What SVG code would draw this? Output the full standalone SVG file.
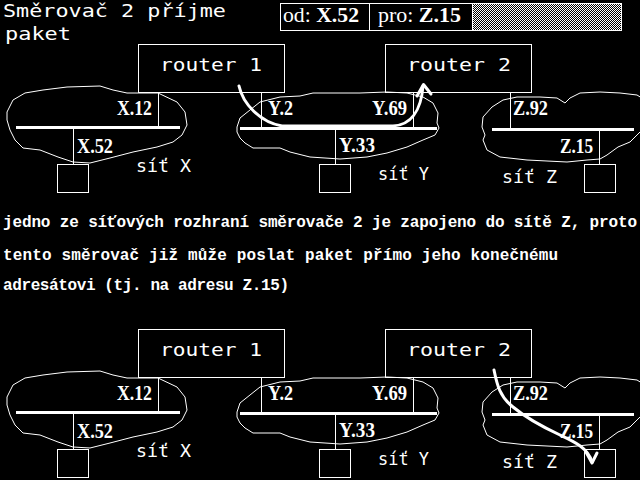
<svg xmlns="http://www.w3.org/2000/svg" width="640" height="480" viewBox="0 0 640 480">
<style>
.bg{fill:#000}
.box{fill:none;stroke:#fff;stroke-width:1}
.cloud{fill:none;stroke:#fff;stroke-width:1;stroke-linejoin:round}
.bus{stroke:#fff;stroke-width:3}
.wire{stroke:#fff;stroke-width:1}
.pix{font-family:"DejaVu Sans Mono","Liberation Mono",monospace;font-size:18.5px;fill:#fff}
.lab{font-family:"Liberation Serif","Times New Roman",serif;font-size:20.5px;font-weight:bold;fill:#fff}
.pkt{font-family:"Liberation Serif","Times New Roman",serif;font-size:21px;fill:#fff}
.para{font-family:"Liberation Mono","Courier New",monospace;font-size:16px;font-weight:bold;fill:#fff}
.arrow{fill:none;stroke:#fff;stroke-width:3;stroke-linecap:round;stroke-linejoin:round}
</style>
<defs>
<pattern id="dither" width="2" height="2" patternUnits="userSpaceOnUse">
<rect width="2" height="2" fill="#000"/>
<rect x="0" y="0" width="1" height="1" fill="#fff"/>
<rect x="1" y="1" width="1" height="1" fill="#fff"/>
</pattern>
<g id="scene">
<polygon class="cloud" points="7,112 13,100 25,93 43,90 67,87 100,86 113,90 127,93 138,93 158,93 177,102 185,112 187,125 182,135 173,142 157,147 133,152 110,158 90,163 73,162 58,157 40,150 23,148 15,140 10,130 7,120"/>
<polygon class="cloud" points="237,127 240,118 250,110 260,102 280,97 300,96 313,93 333,93 360,93 387,92 407,93 423,97 433,103 438,113 437,123 439,128 435,135 423,140 407,147 387,153 367,157 340,159 310,157 290,152 280,148 267,148 253,148 245,143 240,138 237,132"/>
<polygon class="cloud" points="482,127 483,117 492,107 503,100 517,97 540,97 557,98 565,103 570,98 580,93 600,92 620,93 637,95 645,100 645,128 640,132 630,142 618,147 607,155 600,159 587,160 567,162 527,160 500,157 487,150 483,140 485,135"/>
</g>
</defs>
<rect class="bg" x="0" y="0" width="640" height="480"/>

<g id="title">
<text class="pix" x="3" y="17" textLength="223" lengthAdjust="spacingAndGlyphs">Směrovač 2 příjme</text>
<text class="pix" x="5" y="39.5" textLength="66" lengthAdjust="spacingAndGlyphs">paket</text>
</g>

<g id="packet">
<rect x="472" y="3.5" width="149.5" height="27" fill="url(#dither)"/>
<rect class="box" x="280.5" y="3.5" width="341" height="27"/>
<line class="wire" x1="369.5" y1="3.5" x2="369.5" y2="30.5"/>
<line class="wire" x1="472.5" y1="3.5" x2="472.5" y2="30.5"/>
<text class="pkt" x="283" y="22" textLength="76" lengthAdjust="spacingAndGlyphs">od: <tspan font-weight="bold">X.52</tspan></text>
<text class="pkt" x="378" y="22" textLength="83" lengthAdjust="spacingAndGlyphs">pro: <tspan font-weight="bold">Z.15</tspan></text>
</g>

<!-- upper half -->
<g id="upper">
<g id="net-x">
<use href="#scene"/>
</g>
<g id="connectors-upper">
<line class="bus" x1="16" y1="127.5" x2="180" y2="127.5"/>
<line class="bus" x1="240" y1="128.5" x2="437" y2="128.5"/>
<line class="bus" x1="492" y1="129.5" x2="634" y2="129.5"/>
<line class="wire" x1="158.5" y1="92.5" x2="158.5" y2="127"/>
<line class="wire" x1="73.5" y1="127" x2="73.5" y2="164.5"/>
<line class="wire" x1="261.5" y1="92.5" x2="261.5" y2="128"/>
<line class="wire" x1="413.5" y1="92.5" x2="413.5" y2="128"/>
<line class="wire" x1="335.5" y1="128" x2="335.5" y2="164.5"/>
<line class="wire" x1="510.5" y1="92.5" x2="510.5" y2="129"/>
<line class="wire" x1="599.5" y1="129" x2="599.5" y2="164.5"/>
</g>
<g id="router1"><rect class="box" x="138.5" y="44.5" width="146" height="48"/><text class="pix" x="160" y="71" textLength="102" lengthAdjust="spacingAndGlyphs">router 1</text></g>
<g id="router2"><rect class="box" x="385.5" y="44.5" width="146" height="48"/><text class="pix" x="407" y="71" textLength="104" lengthAdjust="spacingAndGlyphs">router 2</text></g>
<g id="hostX"><rect class="box" x="57.5" y="164.5" width="31" height="28"/></g>
<g id="hostY"><rect class="box" x="319.5" y="164.5" width="31" height="28"/></g>
<g id="hostZ"><rect class="box" x="584.5" y="164.5" width="31" height="28"/></g>
<g id="labels-upper">
<text class="lab" x="152" y="115" text-anchor="end" textLength="35" lengthAdjust="spacingAndGlyphs">X.12</text>
<text class="lab" x="77" y="153" textLength="36" lengthAdjust="spacingAndGlyphs">X.52</text>
<text class="lab" x="268" y="115" textLength="25" lengthAdjust="spacingAndGlyphs">Y.2</text>
<text class="lab" x="407" y="115" text-anchor="end" textLength="35" lengthAdjust="spacingAndGlyphs">Y.69</text>
<text class="lab" x="339" y="152" textLength="36" lengthAdjust="spacingAndGlyphs">Y.33</text>
<text class="lab" x="513" y="115" textLength="35" lengthAdjust="spacingAndGlyphs">Z.92</text>
<text class="lab" x="593" y="152.5" text-anchor="end" textLength="33" lengthAdjust="spacingAndGlyphs">Z.15</text>
<text class="pix" x="136" y="171.5" textLength="55" lengthAdjust="spacingAndGlyphs">síť X</text>
<text class="pix" x="378" y="180" textLength="51" lengthAdjust="spacingAndGlyphs">síť Y</text>
<text class="pix" x="502" y="183" textLength="55" lengthAdjust="spacingAndGlyphs">síť Z</text>
</g>
<g id="path-upper">
<path class="arrow" d="M239,86 C243,104 260,122 282,126 L393,126 C410,125 421,112 423,86"/>
<polyline class="arrow" points="417,96 423.5,84.5 431,94"/>
</g>
</g>

<g id="paragraph">
<text class="para" x="3" y="226.5" textLength="634" lengthAdjust="spacing">jedno ze síťových rozhraní směrovače 2 je zapojeno do sítě Z, proto</text>
<text class="para" x="3" y="260" textLength="555" lengthAdjust="spacing">tento směrovač již může poslat paket přímo jeho konečnému</text>
<text class="para" x="3" y="290" textLength="286" lengthAdjust="spacing">adresátovi (tj. na adresu Z.15)</text>
</g>

<!-- lower half -->
<g id="lower" transform="translate(0,285)">
<g id="nets-lower"><use href="#scene"/></g>
<g id="connectors-lower">
<line class="bus" x1="16" y1="127.5" x2="180" y2="127.5"/>
<line class="bus" x1="240" y1="128.5" x2="437" y2="128.5"/>
<line class="bus" x1="492" y1="129.5" x2="634" y2="129.5"/>
<line class="wire" x1="158.5" y1="92.5" x2="158.5" y2="127"/>
<line class="wire" x1="73.5" y1="127" x2="73.5" y2="164.5"/>
<line class="wire" x1="261.5" y1="92.5" x2="261.5" y2="128"/>
<line class="wire" x1="413.5" y1="92.5" x2="413.5" y2="128"/>
<line class="wire" x1="335.5" y1="128" x2="335.5" y2="164.5"/>
<line class="wire" x1="510.5" y1="92.5" x2="510.5" y2="129"/>
<line class="wire" x1="599.5" y1="129" x2="599.5" y2="164.5"/>
</g>
<g id="router1b"><rect class="box" x="138.5" y="44.5" width="146" height="48"/><text class="pix" x="160" y="71" textLength="102" lengthAdjust="spacingAndGlyphs">router 1</text></g>
<g id="router2b"><rect class="box" x="385.5" y="44.5" width="146" height="48"/><text class="pix" x="407" y="71" textLength="104" lengthAdjust="spacingAndGlyphs">router 2</text></g>
<g id="hostXb"><rect class="box" x="57.5" y="164.5" width="31" height="28"/></g>
<g id="hostYb"><rect class="box" x="319.5" y="164.5" width="31" height="28"/></g>
<g id="hostZb"><rect class="box" x="584.5" y="164.5" width="31" height="28"/></g>
<g id="labels-lower">
<text class="lab" x="152" y="115" text-anchor="end" textLength="35" lengthAdjust="spacingAndGlyphs">X.12</text>
<text class="lab" x="77" y="153" textLength="36" lengthAdjust="spacingAndGlyphs">X.52</text>
<text class="lab" x="268" y="115" textLength="25" lengthAdjust="spacingAndGlyphs">Y.2</text>
<text class="lab" x="407" y="115" text-anchor="end" textLength="35" lengthAdjust="spacingAndGlyphs">Y.69</text>
<text class="lab" x="339" y="152" textLength="36" lengthAdjust="spacingAndGlyphs">Y.33</text>
<text class="lab" x="513" y="115" textLength="35" lengthAdjust="spacingAndGlyphs">Z.92</text>
<text class="lab" x="593" y="152.5" text-anchor="end" textLength="33" lengthAdjust="spacingAndGlyphs">Z.15</text>
<text class="pix" x="136" y="171.5" textLength="55" lengthAdjust="spacingAndGlyphs">síť X</text>
<text class="pix" x="378" y="180" textLength="51" lengthAdjust="spacingAndGlyphs">síť Y</text>
<text class="pix" x="502" y="183" textLength="55" lengthAdjust="spacingAndGlyphs">síť Z</text>
</g>
<g id="path-lower">
<path class="arrow" d="M494,85 C497,100 500,112 513,122 C525,132 545,143 560,150 C575,157 588,163 592,177"/>
<polyline class="arrow" points="586,167 592,178 597,168"/>
</g>
</g>
</svg>
